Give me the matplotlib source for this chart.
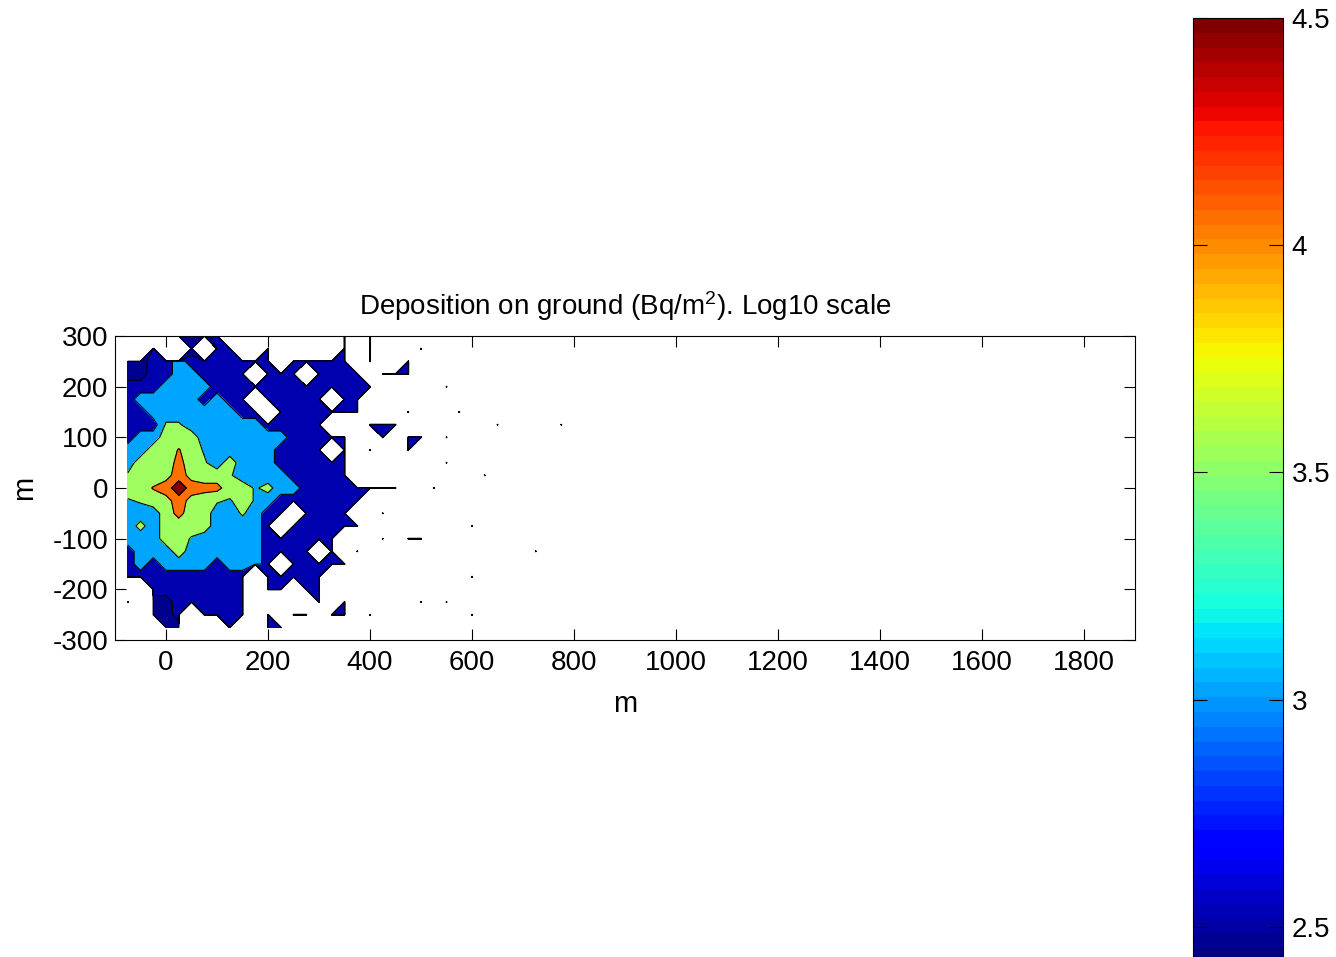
import numpy as np
import matplotlib
matplotlib.use("Agg")
import matplotlib.pyplot as plt
from matplotlib.colors import Normalize

plt.rcParams['font.family'] = ['Liberation Sans', 'DejaVu Sans']
plt.rcParams['mathtext.default'] = 'regular'
plt.rcParams['axes.unicode_minus'] = False

# deposition grid, 25 m spacing: columns from x = -75 m, rows from y = 300 m down to -275 m
# codes are log10 levels ('.' = nothing deposited)
x_start, y_start, step = -75, 300, 25
n_cols = 36
rows = [
    "....dddb.........b.b...",
    "..b..d.bb..b.....b.b...",
    "ddbblbbbbbbb.bbbbb.b..b",
    "ddbbllbbbb.bbb.bbbb.bbb",
    "bbbllllbbbbbbbbbbbbb...",
    "blllllblbb.bbbbb.bb....",
    "bblllllllbb.bbbbbbb...b",
    "bbbhhllllllbbbbb...bbb.",
    "bllggglllllllbbbbb..b.b",
    "llggpgklllllbbbb.b.b..b",
    "lgggqghlglllbbbbbb.....",
    "hgggeggghllllbbbbb.....",
    "ggpereqqggkjllbbbbbbbb.",
    "khggegghkgklbbbbbbb....",
    "lllgqggllhlbb.bbbb..b..",
    "ljlggggllllb.bbbbbb....",
    "lllggklllllbbbbbb...b.b",
    "blllgllllllbbbb.b.b....",
    "blbllllblllb.bbbbb.....",
    "bbbbbbbbbb.bbbbb.......",
    "..bbbbbbbb.bb.bb.......",
    "b.ddbbbbbb.....b.b.....",
    "..ddb.bbbb.b.bb.bb.b...",
    "...dd...b..bb..........",
]
code_value = {'.': -20.0, 'd': 2.25, 'b': 2.75, 'l': 3.25, 'k': 3.45,
              'h': 3.56, 'j': 3.65, 'g': 3.75, 'p': 4.03, 'q': 4.15,
              'e': 4.35, 'r': 4.7}
# lone grid points further out, they only show as dots
spots = [(500, 275), (550, 200), (575, 150), (650, 125), (775, 125),
         (500, 100), (550, 100), (550, 50), (625, 25), (525, 0), (600, -75),
         (500, -100), (725, -125), (600, -175), (500, -225), (550, -225),
         (600, -250)]

levels = [2.0, 2.5, 3.0, 3.5, 4.0, 4.5, 5.0]
fill_colors = ['#00008f', '#0000af', '#00a5ff', '#9fff60', '#ff7000', '#800000']
cb_min, cb_max = 2.42, 4.5
cb_ticks = [2.5, 3, 3.5, 4, 4.5]
cb_labels = ['2.5', '3', '3.5', '4', '4.5']
x_ticks = [0, 200, 400, 600, 800, 1000, 1200, 1400, 1600, 1800]
y_ticks = [-300, -200, -100, 0, 100, 200, 300]

xs = x_start + step * np.arange(n_cols)
ys = y_start - step * np.arange(len(rows))
Z = np.full((len(rows), n_cols), code_value['.'])
for i, r in enumerate(rows):
    for j, c in enumerate(r):
        Z[i, j] = code_value[c]
for px, py in spots:
    Z[(y_start - py) // step, (px - x_start) // step] = code_value['b']

fig = plt.figure(figsize=(13.36, 9.57), dpi=100)
ax = fig.add_axes([0.0861, 0.3312, 0.7635, 0.3177])
ax.contourf(xs, ys, Z, levels=levels, colors=fill_colors)
ax.contour(xs, ys, Z, levels=levels[:-1], colors='k', linewidths=0.8)
ax.set_xlim(-100, 1900)
ax.set_ylim(-300, 300)
ax.set_xticks(x_ticks)
ax.set_yticks(y_ticks)
ax.tick_params(direction='in', top=True, right=True, length=8, width=0.8,
               labelsize=20, pad=7)
ax.tick_params(axis='y', pad=5)
for s in ax.spines.values():
    s.set_linewidth(0.8)
ax.set_title('Deposition on ground (Bq/m$^{2}$). Log10 scale', fontsize=20, pad=15)
ax.set_xlabel('m', fontsize=21, labelpad=10)
ax.set_ylabel('m', fontsize=21, labelpad=10)

cax = fig.add_axes([0.893, -0.0063, 0.0674, 0.9875])
sm = plt.cm.ScalarMappable(norm=Normalize(cb_min, cb_max), cmap=plt.get_cmap('jet', 64))
cb = fig.colorbar(sm, cax=cax)
cb.set_ticks(cb_ticks)
cb.set_ticklabels(cb_labels)
cax.tick_params(direction='in', left=True, right=True, length=10, width=0.8,
                labelsize=20, pad=6)
cb.outline.set_linewidth(0.8)

fig.savefig('out.png', dpi=100)
